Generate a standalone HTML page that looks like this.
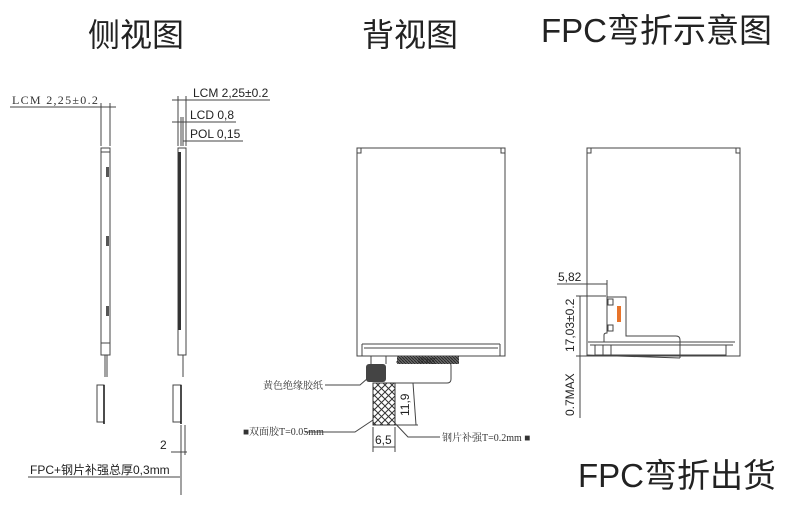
<!DOCTYPE html>
<html><head><meta charset="utf-8"><style>
html,body{margin:0;padding:0;background:#fff;width:800px;height:518px;overflow:hidden}
svg{display:block}
.t{font-family:"Liberation Sans","Noto Sans CJK SC",sans-serif;fill:#222}
.s{font-family:"Liberation Serif","Noto Serif CJK SC",serif;fill:#333}
</style></head><body>
<svg width="800" height="518" viewBox="0 0 800 518" xmlns="http://www.w3.org/2000/svg">
<defs>
<pattern id="hx" width="7" height="7" patternUnits="userSpaceOnUse">
<rect width="7" height="7" fill="#fff"/><path d="M0 0L7 7M7 0L0 7" stroke="#333" stroke-width="1"/>
</pattern>
<pattern id="dk" width="3" height="3" patternUnits="userSpaceOnUse">
<rect width="3" height="3" fill="#666"/><path d="M0 0L3 3" stroke="#222" stroke-width="0.8"/>
</pattern>
</defs>
<g class="t">
<text x="88" y="46" font-size="32">侧视图</text>
<text x="362" y="46" font-size="32">背视图</text>
<text x="541" y="42" font-size="33">FPC弯折示意图</text>
<text x="578" y="487" font-size="33">FPC弯折出货</text>
</g>
<g fill="none" stroke="#444" stroke-width="1">
<line x1="10" y1="107" x2="116" y2="107"/>
<line x1="101" y1="103" x2="101" y2="146"/><line x1="110" y1="103" x2="110" y2="146"/>
<rect x="101" y="148" width="9" height="207"/>
<line x1="101" y1="152" x2="110" y2="152"/><line x1="101" y1="343" x2="110" y2="343"/>
<line x1="105" y1="355" x2="105" y2="377"/><line x1="107" y1="355" x2="107" y2="377"/>
<rect x="97" y="385" width="7" height="37"/>
<line x1="172" y1="100" x2="270" y2="100"/>
<line x1="172" y1="122" x2="236" y2="122"/>
<line x1="183" y1="141" x2="243" y2="141"/>
<line x1="178" y1="96" x2="178" y2="146"/><line x1="186" y1="96" x2="186" y2="146"/>
<line x1="181" y1="117" x2="181" y2="146"/><line x1="183" y1="117" x2="183" y2="146"/>
<rect x="178" y="148" width="8" height="207"/>
<line x1="183" y1="355" x2="183" y2="377"/>
<rect x="173" y="385" width="8" height="37"/>
<line x1="181" y1="425" x2="181" y2="495"/><line x1="185" y1="425" x2="185" y2="455"/>
<line x1="171" y1="452" x2="187" y2="452"/>
<line x1="28" y1="477" x2="180" y2="477"/>
<rect x="357" y="148" width="148" height="208"/>
<line x1="362" y1="344" x2="500" y2="344"/><line x1="364" y1="348" x2="498" y2="348"/>
<line x1="362" y1="344" x2="362" y2="356"/><line x1="500" y1="344" x2="500" y2="356"/>
<rect x="357" y="148" width="4" height="5"/><rect x="501" y="148" width="4" height="5"/>
<line x1="371" y1="356" x2="371" y2="364"/><line x1="386" y1="356" x2="386" y2="364"/>
<path d="M396 362 L448 362 Q451 362 451 366 L451 379 Q451 383 447 383 L395 383"/>
<line x1="413" y1="383" x2="416" y2="425"/>
<line x1="395" y1="425" x2="418" y2="425"/>
<line x1="373" y1="427" x2="373" y2="452"/><line x1="395" y1="427" x2="395" y2="452"/>
<line x1="373" y1="447" x2="395" y2="447"/>
<path d="M325 385 L360 385 L368 378"/>
<path d="M305 432 L355 432 L373 420"/>
<path d="M390 418 L408 437 L440 437"/>
<rect x="587" y="148" width="153" height="208"/>
<rect x="587" y="148" width="4" height="5"/><rect x="736" y="148" width="4" height="5"/>
<line x1="588" y1="342" x2="735" y2="342"/><line x1="590" y1="345" x2="733" y2="345"/>
<path d="M595 345 L595 355 L726 355 L726 345"/>
<line x1="603" y1="345" x2="603" y2="355"/><line x1="611" y1="345" x2="611" y2="355"/>
<path d="M604 342 L604 335 Q604 333 607 333 L607 297 L626 297 L626 336 L676 336 Q680 336 680 340 L680 358"/>
<rect x="608" y="299" width="5" height="6"/><rect x="608" y="325" width="5" height="6"/>
<line x1="557" y1="284" x2="607" y2="284"/><line x1="607" y1="280" x2="607" y2="297"/>
<line x1="580" y1="296" x2="580" y2="418"/>
<line x1="576" y1="296" x2="606" y2="296"/>
<line x1="576" y1="356" x2="626" y2="356"/>
<line x1="587" y1="355" x2="680" y2="358"/>
</g>
<rect x="178" y="152" width="3" height="178" fill="#333"/>
<rect x="106" y="167" width="3" height="10" fill="#555"/>
<rect x="106" y="236" width="3" height="10" fill="#555"/>
<rect x="106" y="306" width="3" height="10" fill="#555"/>
<line x1="104" y1="385" x2="104" y2="424" stroke="#111" stroke-width="1.5"/>
<line x1="181" y1="385" x2="181" y2="424" stroke="#111" stroke-width="1.5"/>
<rect x="397" y="356" width="62" height="8" fill="url(#dk)"/>
<text x="418" y="363" font-size="6" class="t" fill="#fff">绿油区</text>
<rect x="366" y="364" width="20" height="18" rx="3" fill="#444"/>
<rect x="373" y="383" width="22" height="42" fill="url(#hx)" stroke="#333"/>
<rect x="617" y="306" width="4" height="16" fill="#e8742a"/>
<g class="t" font-size="12">
<text x="193" y="97">LCM 2,25±0.2</text>
<text x="190" y="119">LCD 0,8</text>
<text x="190" y="138">POL 0,15</text>
<text x="160" y="449">2</text>
<text x="30" y="474">FPC+钢片补强总厚0,3mm</text>
<text x="375" y="444">6,5</text>
<text x="558" y="281">5,82</text>
<text transform="translate(409,416) rotate(-90)">11,9</text>
<text transform="translate(574,352) rotate(-90)">17,03±0.2</text>
<text transform="translate(574,416) rotate(-90)">0.7MAX</text>
</g>
<g class="s" font-size="10">
<text x="12" y="104" font-size="12" letter-spacing="1.3">LCM 2,25±0.2</text>
<text x="263" y="389">黄色绝缘胶纸</text>
<text x="243" y="435">■双面胶T=0.05mm</text>
<text x="442" y="441">钢片补强T=0.2mm ■</text>
</g>
</svg>
</body></html>
